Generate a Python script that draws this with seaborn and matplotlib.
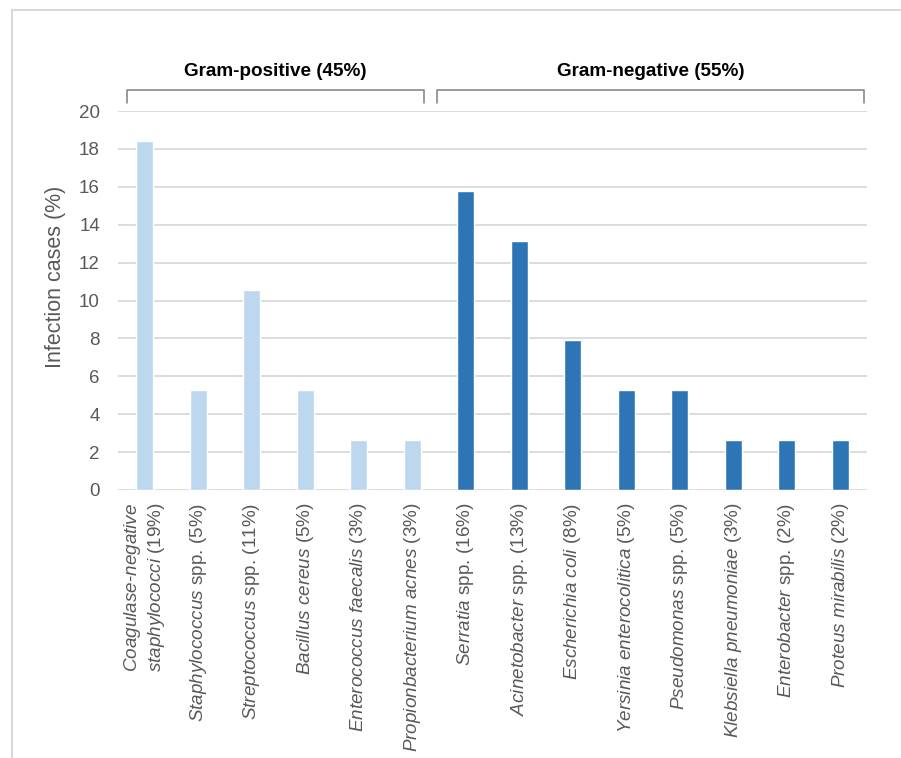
import matplotlib
matplotlib.use("Agg")
import matplotlib.pyplot as plt
import matplotlib.patches as mpatches
import pandas as pd
import seaborn as sns

# Isolates (% of infection cases), grouped by Gram stain
categories = [
    r"$\it{Coagulase}$-$\it{negative}$" "\n" r"$\it{staphylococci}$ (19%)",
    r"$\it{Staphylococcus}$ spp. (5%)",
    r"$\it{Streptococcus}$ spp. (11%)",
    r"$\it{Bacillus\ cereus}$ (5%)",
    r"$\it{Enterococcus\ faecalis}$ (3%)",
    r"$\it{Propionbacterium\ acnes}$ (3%)",
    r"$\it{Serratia}$ spp. (16%)",
    r"$\it{Acinetobacter}$ spp. (13%)",
    r"$\it{Escherichia\ coli}$ (8%)",
    r"$\it{Yersinia\ enterocolitica}$ (5%)",
    r"$\it{Pseudomonas}$ spp. (5%)",
    r"$\it{Klebsiella\ pneumoniae}$ (3%)",
    r"$\it{Enterobacter}$ spp. (2%)",
    r"$\it{Proteus\ mirabilis}$ (2%)",
]
values = [18.42, 5.26, 10.53, 5.26, 2.63, 2.63,
          15.79, 13.16, 7.89, 5.26, 5.26, 2.63, 2.63, 2.63]
groups = ["Gram-positive"] * 6 + ["Gram-negative"] * 8
group_titles = {"Gram-positive": "Gram-positive (45%)",
                "Gram-negative": "Gram-negative (55%)"}
palette = {"Gram-positive": "#BDD7EE", "Gram-negative": "#2E75B6"}
y_ticks = [0, 2, 4, 6, 8, 10, 12, 14, 16, 18, 20]

df = pd.DataFrame({"organism": categories, "cases": values, "group": groups})

sns.set_theme(style="white")
plt.rcParams["font.family"] = ["Liberation Sans", "DejaVu Sans"]
plt.rcParams["mathtext.fontset"] = "custom"
plt.rcParams["mathtext.rm"] = "Liberation Sans"
plt.rcParams["mathtext.it"] = "Liberation Sans:italic"

fig = plt.figure(figsize=(9.01, 7.58), dpi=100)
ax = fig.add_axes([118 / 901, 1 - 490 / 758, 749 / 901, 379 / 758])

sns.barplot(data=df, x="organism", y="cases", hue="group", palette=palette,
            dodge=False, width=0.32, saturation=1, legend=False, ax=ax)

grey = "#595959"
ax.set_ylim(0, 20)
ax.set_yticks(y_ticks)
ax.set_xlim(-0.5, len(categories) - 0.5)
ax.yaxis.grid(True, color="#d9d9d9", linewidth=1.3)
ax.set_axisbelow(True)
for s in ax.spines.values():
    s.set_visible(False)
ax.tick_params(axis="y", length=0, pad=13, labelsize=13.5, labelcolor=grey)
ax.tick_params(axis="x", length=0, pad=9, labelsize=13.6, labelcolor=grey)
ax.set_xticks(range(len(categories)))
ax.set_xticklabels(categories, rotation=90, ha="center", va="top",
                   multialignment="left")
ax.set_xlabel("")
ax.set_ylabel("Infection cases (%)", fontsize=15.5, color=grey)
ax.yaxis.set_label_coords(-0.084, 0.562)
ax.yaxis.label.set_verticalalignment("center")

# Group brackets with titles above the bars
trans = ax.get_xaxis_transform()
idx = {g: [i for i, gg in enumerate(groups) if gg == g] for g in group_titles}
spans = {
    "Gram-positive": (idx["Gram-positive"][0] - 0.33, idx["Gram-positive"][-1] + 0.22),
    "Gram-negative": (idx["Gram-negative"][0] - 0.54, idx["Gram-negative"][-1] + 0.45),
}
y_top, y_bot = 1.055, 1.021
for g, (x0, x1) in spans.items():
    ax.plot([x0, x0, x1, x1], [y_bot, y_top, y_top, y_bot], transform=trans,
            color="#7f7f7f", linewidth=1.1, clip_on=False,
            solid_joinstyle="round")
    ax.text((x0 + x1) / 2, 1.103, group_titles[g], transform=trans,
            ha="center", va="center", fontsize=13.6, fontweight="bold",
            color="black")

# Light chart-area border
fig.patches.append(mpatches.Rectangle(
    (12 / 901, -0.05), 1.2, 1 - 10 / 758 + 0.05, transform=fig.transFigure,
    fill=False, edgecolor="#d9d9d9", linewidth=1.5))

fig.savefig("out.png", dpi=100)
